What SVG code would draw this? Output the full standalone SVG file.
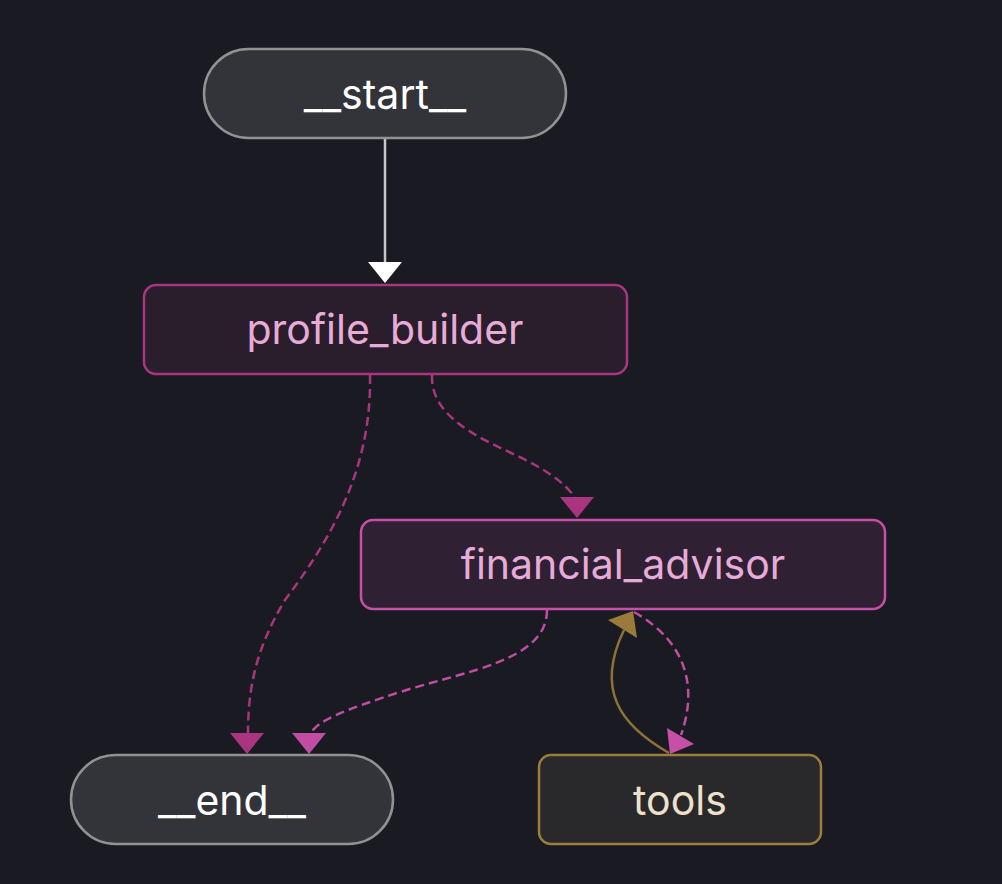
<svg xmlns="http://www.w3.org/2000/svg" width="1002" height="884" viewBox="0 0 1002 884">
<style>
.lbl{font-family:Inter,"Noto Sans","Liberation Sans",sans-serif;font-size:41px;text-anchor:middle}
.term rect{fill:#333439;stroke:#929292;stroke-width:2.5}
.term text{fill:#ffffff}
.pb rect{fill:#2a1d2c;stroke:#a9347f;stroke-width:2.5}
.fa rect{fill:#2f2034;stroke:#c84fa8;stroke-width:2.5}
.pink{fill:#e7abd8}
.tl rect{fill:#29282a;stroke:#9c7d3e;stroke-width:2.5}
.tl text{fill:#eee1c9}
.e{fill:none;stroke-width:2.5}
.dash{stroke-dasharray:9 5}
.m1{stroke:#a9347f}
.m2{stroke:#c14ca3}
.gold{stroke:#8c7139}
</style>
<rect width="1002" height="884" fill="#1a1b22"/>
<g id="connectors">
<path class="e" d="M385,139 L385,263" stroke="#c8c8c8"/>
<polygon points="368,262 402,262 385,283" fill="#ffffff"/>
<path class="e dash m1" d="M370,375 C372,470 330,540 285,600 C255,650 248,690 248,734"/>
<polygon points="230,733 264,733 247,754" fill="#a9347f"/>
<path class="e dash m1" d="M432,375 C430,425 500,445 535,465 C560,479 570,490 575,498"/>
<polygon points="560,497 594,497 577,518" fill="#a9347f"/>
<path class="e dash m2" d="M547,610 C547,660 470,670 400,692 C345,710 318,720 310,734"/>
<polygon points="292,733 326,733 309,754" fill="#c14ca3"/>
<path class="e gold" d="M669,753 C620,725 595,690 624,630"/>
<polygon points="633,611 608,620 637,638" fill="#9a7b3a"/>
<path class="e dash m2" d="M634,612 C675,635 702,675 681,735"/>
<polygon points="667,728 694,744 670,754" fill="#c84fa8"/>
</g>
<g id="node-start" class="term">
<rect x="204" y="49" width="362" height="89" rx="44.5"/>
<text class="lbl" x="385" y="109">__start__</text>
</g>
<g id="node-profile_builder" class="pb">
<rect x="144" y="285" width="483" height="89" rx="12"/>
<text class="lbl pink" x="385" y="344">profile_builder</text>
</g>
<g id="node-financial_advisor" class="fa">
<rect x="361" y="520" width="524" height="89" rx="12"/>
<text class="lbl pink" x="623" y="579">financial_advisor</text>
</g>
<g id="node-end" class="term">
<rect x="71" y="755" width="322" height="89" rx="44.5"/>
<text class="lbl" x="232" y="815">__end__</text>
</g>
<g id="node-tools" class="tl">
<rect x="539" y="755" width="282" height="89" rx="12"/>
<text class="lbl" x="680" y="815">tools</text>
</g>
</svg>
